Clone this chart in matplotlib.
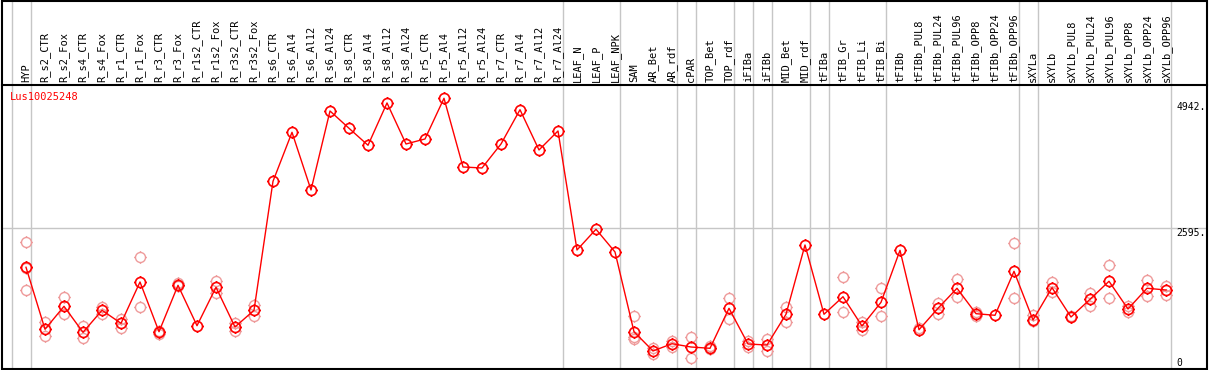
import numpy as np
import matplotlib
matplotlib.use("Agg")
import matplotlib.pyplot as plt
from matplotlib.path import Path
from matplotlib.lines import Line2D
from matplotlib.patches import Rectangle

W, H = 1209, 370

labels = ["HYP", "R_s2_CTR", "R_s2_Fox", "R_s4_CTR", "R_s4_Fox", "R_r1_CTR", "R_r1_Fox",
          "R_r3_CTR", "R_r3_Fox", "R_r1s2_CTR", "R_r1s2_Fox", "R_r3s2_CTR", "R_r3s2_Fox",
          "R_s6_CTR", "R_s6_Al4", "R_s6_Al12", "R_s6_Al24", "R_s8_CTR", "R_s8_Al4", "R_s8_Al12",
          "R_s8_Al24", "R_r5_CTR", "R_r5_Al4", "R_r5_Al12", "R_r5_Al24", "R_r7_CTR", "R_r7_Al4",
          "R_r7_Al12", "R_r7_Al24", "LEAF_N", "LEAF_P", "LEAF_NPK", "SAM", "AR_Bet", "AR_rdf",
          "cPAR", "TOP_Bet", "TOP_rdf", "iFIBa", "iFIBb", "MID_Bet", "MID_rdf", "tFIBa",
          "tFIB_Gr", "tFIB_Li", "tFIB_Bi", "tFIBb", "tFIBb_PUL8", "tFIBb_PUL24", "tFIBb_PUL96",
          "tFIBb_OPP8", "tFIBb_OPP24", "tFIBb_OPP96", "sXYLa", "sXYLb", "sXYLb_PUL8",
          "sXYLb_PUL24", "sXYLb_PUL96", "sXYLb_OPP8", "sXYLb_OPP24", "sXYLb_OPP96"]

means = [1871, 719, 1146, 663, 1072, 830, 1598, 674, 1536, 786, 1499, 762, 1072,
         3468, 4378, 3307, 4774, 4453, 4137, 4923, 4161, 4254, 5010, 3734, 3715, 4161,
         4798, 4050, 4403, 2192, 2577, 2155, 674, 316, 451, 390, 366, 1109, 446, 427,
         998, 2285, 998, 1324, 780, 1220, 2186, 711, 1109, 1481, 1009, 979, 1796, 892,
         1492, 947, 1276, 1611, 1096, 1481, 1449]

# individual replicates (only where they show apart from the mean)
reps = [[2341, 1858, 1449], [849, 594], [1313, 998], [780, 563], [1139, 1003],
        [905, 749], [2056, 1133], [693, 626], [1585, 1523], [], [1616, 1399],
        [841, 687], [1176, 972],
        [], [], [], [], [], [], [], [], [], [], [], [], [], [], [], [], [], [], [],
        [960, 570, 539], [377, 254], [507, 396], [576, 191], [414, 353], [1295, 910],
        [507, 390], [533, 310], [1133, 849], [], [], [1685, 1035], [855, 706],
        [1486, 960], [], [749], [1213, 1003], [1648, 1313], [1046, 972], [],
        [2316, 1295], [985, 868], [1603, 1417], [966], [1393, 1152], [1908, 1295],
        [1152, 1040], [1635, 1343], [1523, 1356]]

gene = "Lus10025248"
ref_levels = [4942, 2595, 0]
ref_labels = ["4942.", "2595.", "0"]
group_ends = [-1, 0, 28, 31, 34, 35, 37, 38, 39, 41, 42, 45, 52, 53, 60]

RED, PINK, GRID = "#ff0000", "#ee9a9a", "#c6c6c6"
MONO = "DejaVu Sans Mono"

# open circle with four short ticks, like the original marker
tick_v = [(0, 1), (0, 1.25), (0, -1), (0, -1.25), (1, 0), (1.25, 0), (-1, 0), (-1.25, 0)]
tick_c = [Path.MOVETO, Path.LINETO] * 4
mk = Path.make_compound_path(Path.unit_circle(), Path(tick_v, tick_c))


def px_box(l, t, r, b):
    return [l / W, 1 - b / H, (r - l) / W, (b - t) / H]


fig = plt.figure(figsize=(W / 100, H / 100), dpi=100)
ax = fig.add_axes(px_box(2, 86, 1207, 368))
hd = fig.add_axes(px_box(2, 0, 1207, 85), sharex=ax)

x = np.arange(len(labels))
ax.set_xlim((2 - 26) / 19, (1207 - 26) / 19)
ax.set_ylim(0, 5238)
hd.set_ylim(0, 1)

for g in group_ends:
    for a in (ax, hd):
        a.axvline(g + 0.25, color=GRID, lw=1, zorder=1)
ax.axhline(ref_levels[1], color=GRID, lw=1, zorder=1)

rx = [i for i, r in enumerate(reps) for _ in r]
ry = [v for r in reps for v in r]
ax.plot(rx, ry, ls="none", marker=mk, ms=9, mfc="none", mec=PINK, mew=1.0, zorder=3)
ax.plot(x, means, color=RED, lw=1, marker=mk, ms=9, mfc="none", mec=RED, mew=1.2, zorder=4)

for i, lab in enumerate(labels):
    hd.text(i, 0.03, lab, rotation=90, ha="center", va="bottom", fontsize=7.5, family=MONO)

ax.text(0.0066, 0.978, gene, transform=ax.transAxes, color=RED, va="top", ha="left",
        fontsize=7.5, family=MONO)
for lv, lb in zip(ref_levels, ref_labels):
    ax.text(0.9745, lv, lb, transform=ax.get_yaxis_transform(), ha="left",
            va="bottom" if lv == 0 else "top", fontsize=7, family=MONO)

ax.axis("off")
hd.axis("off")

fig.add_artist(Rectangle((1.5 / W, 1 - 369 / H), (1207 - 1.5) / W, (369 - 0.5) / H,
                         fill=False, ec="black", lw=1.5, transform=fig.transFigure))
fig.add_artist(Line2D([1.5 / W, 1207 / W], [1 - 85 / H] * 2, color="black", lw=1.5,
                      transform=fig.transFigure))

fig.savefig("out.png", dpi=100)
